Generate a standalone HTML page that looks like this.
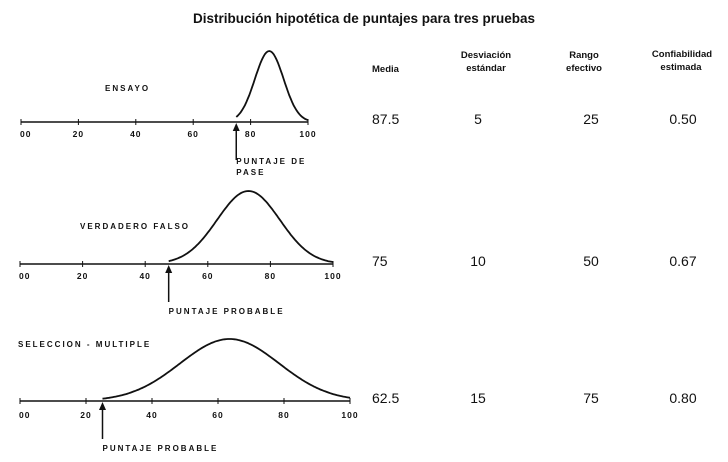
<!DOCTYPE html>
<html><head><meta charset="utf-8"><style>
body{margin:0;background:#fff;width:728px;height:457px;overflow:hidden}
svg text{font-family:"Liberation Sans",sans-serif;fill:#111}
.hd{font-size:9.5px;font-weight:bold}
.val{font-size:14px}
.tk{font-size:8.5px;font-weight:bold;letter-spacing:1px}
.lb{font-size:8px;font-weight:bold;letter-spacing:2px}
</style></head><body>
<svg id="chart" width="728" height="457">
<text x="364" y="23" text-anchor="middle" style="font-size:13.5px;font-weight:bold">Distribución hipotética de puntajes para tres pruebas</text>
<g>
<text class="hd" x="372" y="72">Media</text>
<text class="hd" x="486" y="58" text-anchor="middle">Desviación</text>
<text class="hd" x="486" y="71" text-anchor="middle">estándar</text>
<text class="hd" x="584" y="58" text-anchor="middle">Rango</text>
<text class="hd" x="584" y="71" text-anchor="middle">efectivo</text>
<text class="hd" x="682" y="57" text-anchor="middle">Confiabilidad</text>
<text class="hd" x="681" y="70" text-anchor="middle">estimada</text>
</g>
<g id="panels"></g>
</svg>
<script>
const testNames = ["ENSAYO", "VERDADERO  FALSO", "SELECCION - MULTIPLE"];
const means = [86.5, 73, 63.5];
const sds = [5, 10, 15];
const cutScores = [75, 47.5, 25];
const cutLabels = [["PUNTAJE DE", "PASE"], ["PUNTAJE  PROBABLE"], ["PUNTAJE  PROBABLE"]];
const tableMedia = ["87.5", "75", "62.5"];
const tableSd = ["5", "10", "15"];
const tableRange = ["25", "50", "75"];
const tableRel = ["0.50", "0.67", "0.80"];
const tickLabels = ["00", "20", "40", "60", "80", "100"];
const tickValues = [0, 20, 40, 60, 80, 100];

const layout = [
 {x0:21,x1:308,y:122,h:71,nx:105,ny:91,ty:137},
 {x0:20,x1:333,y:264,h:73,nx:80,ny:229,ty:279},
 {x0:20,x1:350,y:401,h:62,nx:18,ny:347,ty:418}
];
const NS="http://www.w3.org/2000/svg";
const root=document.getElementById('panels');
function mk(tag,attrs,parent){const e=document.createElementNS(NS,tag);for(const k in attrs)e.setAttribute(k,attrs[k]);parent.appendChild(e);return e;}
for(let i=0;i<3;i++){
 const L=layout[i];
 const sx=v=>L.x0+(L.x1-L.x0)*v/100;
 const dens=v=>Math.exp(-0.5*Math.pow((v-means[i])/sds[i],2));
 const sy=v=>L.y-L.h*dens(v);
 const g=mk('g',{},root);
 
 
 const ax=mk('line',{x1:L.x0,x2:L.x1,y1:L.y,y2:L.y,stroke:'#111','stroke-width':1.5},g);
 
 
 tickValues.forEach((v,j)=>{
  const t=mk('line',{x1:sx(v),x2:sx(v),y1:L.y-3,y2:L.y+3,stroke:'#111','stroke-width':1},g);
  
  
  const tx=mk('text',{x:sx(v)+(j==0?-1:0),y:L.ty,'text-anchor':j==0?'start':'middle',class:'tk'},g);
  
  
  tx.textContent=tickLabels[j];
 });
 let d='';
 for(let v=cutScores[i];v<=100.001;v+=0.5){d+=(d?'L':'M')+sx(v).toFixed(1)+','+sy(v).toFixed(1);}
 const p=mk('path',{d:d,fill:'none',stroke:'#111','stroke-width':1.8},g);
 
 
 const nm=mk('text',{x:L.nx,y:L.ny,class:'lb'},g);
 
 
 nm.textContent=testNames[i];
 const ax2=sx(cutScores[i]);
 const ar=mk('line',{x1:ax2,x2:ax2,y1:L.y+6,y2:L.y+38,stroke:'#111','stroke-width':1.5},g);
 
 
 const ah=mk('polygon',{points:`${ax2-3.5},${L.y+9} ${ax2+3.5},${L.y+9} ${ax2},${L.y+1}`,fill:'#111'},g);
 
 
 cutLabels[i].forEach((s,k)=>{
  const lt=mk('text',{x:ax2,y:L.y+(i==0?42:50)+k*11,class:'lb'},g);
  
  
  lt.textContent=s;
 });
 const vy=L.y+2;
 [[372,'start',tableMedia],[478,'middle',tableSd],[591,'middle',tableRange],[683,'middle',tableRel]].forEach(c=>{
  const t=mk('text',{x:c[0],y:vy,'text-anchor':c[1],class:'val'},g);
  
  
  t.textContent=c[2][i];
 });
}
</script>
</body></html>
